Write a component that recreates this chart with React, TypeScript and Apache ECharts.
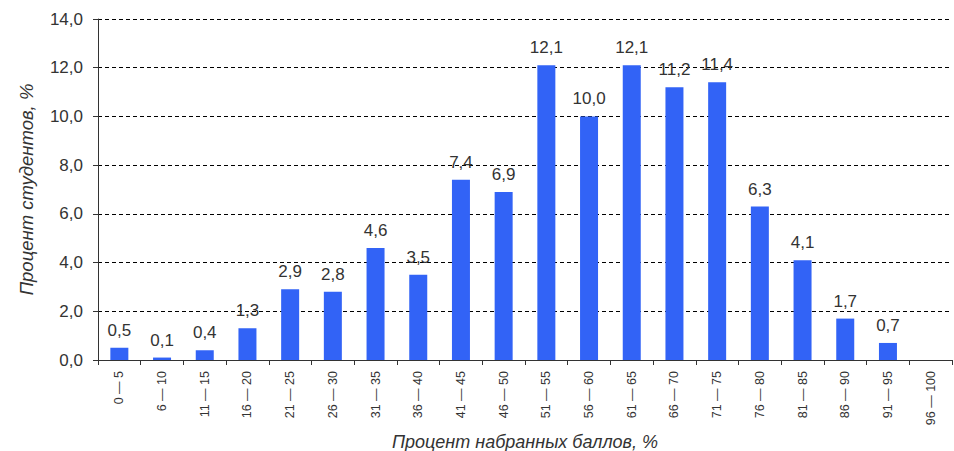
import React, { useEffect, useRef } from "react";
import * as echarts from "echarts";

const categories = [
  "0 — 5", "6 — 10", "11 — 15", "16 — 20", "21 — 25", "26 — 30", "31 — 35",
  "36 — 40", "41 — 45", "46 — 50", "51 — 55", "56 — 60", "61 — 65", "66 — 70",
  "71 — 75", "76 — 80", "81 — 85", "86 — 90", "91 — 95", "96 — 100",
];
const values: (number | null)[] = [
  0.5, 0.1, 0.4, 1.3, 2.9, 2.8, 4.6, 3.5, 7.4, 6.9, 12.1, 10.0, 12.1, 11.2,
  11.4, 6.3, 4.1, 1.7, 0.7, null,
];
const yTitle = "Процент студентов, %";
const xTitle = "Процент набранных баллов, %";

const fmt = (v: number) => v.toFixed(1).replace(".", ",");

export default function App() {
  const ref = useRef<HTMLDivElement>(null);
  useEffect(() => {
    if (!ref.current) return;
    const chart = echarts.init(ref.current, undefined, { renderer: "svg" });
    const font = "Arial, 'Liberation Sans', sans-serif";
    chart.setOption({
      animation: false,
      backgroundColor: "#fff",
      grid: { left: 98, right: 2, top: 19, bottom: 91, containLabel: false, outerBoundsMode: "none" },
      xAxis: {
        type: "category",
        data: categories,
        name: xTitle,
        nameLocation: "middle",
        nameGap: 69,
        nameTextStyle: { fontFamily: font, fontStyle: "italic", fontSize: 18, color: "#333" },
        axisLine: { lineStyle: { color: "#333", width: 1 } },
        axisTick: { show: true, alignWithLabel: false, length: 5, lineStyle: { color: "#333" } },
        axisLabel: {
          rotate: 90,
          interval: 0,
          fontFamily: font,
          fontSize: 12.5,
          color: "#333",
          margin: 11,
        },
        splitLine: { show: false },
      },
      yAxis: {
        type: "value",
        min: 0,
        max: 14,
        interval: 2,
        name: yTitle,
        nameLocation: "middle",
        nameGap: 62,
        nameTextStyle: { fontFamily: font, fontStyle: "italic", fontSize: 18.5, color: "#333" },
        axisLine: { show: true, lineStyle: { color: "#333", width: 1 } },
        axisTick: { show: true, length: 5, lineStyle: { color: "#333" } },
        axisLabel: {
          formatter: (v: number) => fmt(v),
          fontFamily: font,
          fontSize: 17,
          color: "#333",
          margin: 15,
        },
        splitLine: { show: true, lineStyle: { color: "#000", type: [4, 3], width: 1 } },
      },
      series: [
        {
          type: "bar",
          data: values,
          barWidth: 18,
          itemStyle: { color: "#3263f6" },
          label: {
            show: true,
            position: "top",
            distance: 9,
            fontFamily: font,
            fontSize: 17,
            color: "#333",
            formatter: (p: any) => (p.value == null ? "" : fmt(p.value)),
          },
        },
      ],
    });
    return () => chart.dispose();
  }, []);
  return (
    <div
      ref={ref}
      style={{ position: "absolute", left: 0, top: 0, width: 954, height: 451 }}
    />
  );
}
